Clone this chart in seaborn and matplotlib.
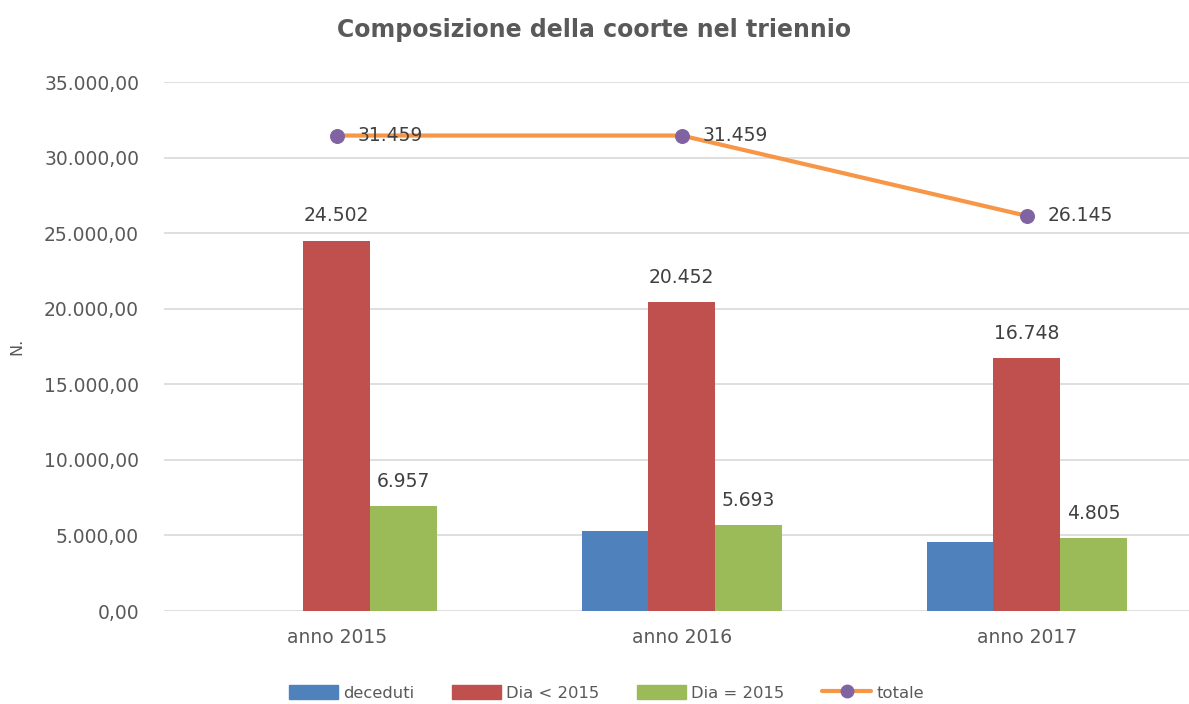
import pandas as pd
import seaborn as sns
import matplotlib.pyplot as plt
from matplotlib.lines import Line2D
from matplotlib.patches import Patch

# Dati
anni = ['anno 2015', 'anno 2016', 'anno 2017']
serie = ['deceduti', 'Dia < 2015', 'Dia = 2015']
deceduti = [0, 5314, 4592]
dia_prima = [24502, 20452, 16748]
dia_uguale = [6957, 5693, 4805]
totale = [31459, 31459, 26145]
colori = ['#4F81BD', '#C0504D', '#9BBB59']

def fmt_it(v, dec=0):
    s = f"{v:,.{dec}f}"
    return s.replace(',', 'X').replace('.', ',').replace('X', '.')

df = pd.DataFrame({
    'anno': anni * 3,
    'serie': [serie[0]] * 3 + [serie[1]] * 3 + [serie[2]] * 3,
    'valore': deceduti + dia_prima + dia_uguale,
})

sns.set_style("white")
plt.rcParams['font.family'] = ['DejaVu Sans']
grigio = '#595959'

fig = plt.figure(figsize=(11.89, 7.04), dpi=100)
ax = fig.add_axes([0.138, 0.132, 0.862, 0.7515])

sns.barplot(data=df, x='anno', y='valore', hue='serie', palette=colori,
            saturation=1, width=0.58, linewidth=0, ax=ax, legend=False, zorder=3)

# etichette sulle barre rosse e verdi
for cont, vals in zip(ax.containers[1:], [dia_prima, dia_uguale]):
    ax.bar_label(cont, labels=[fmt_it(v) for v in vals], padding=11,
                 fontsize=13.5, color='#404040')

# linea totale
x_idx = list(range(len(anni)))
sns.lineplot(x=x_idx, y=totale, color='#F79646', linewidth=3, marker='o',
             markersize=10, markerfacecolor='#8064A2', markeredgecolor='#8064A2',
             ax=ax, zorder=4)
for xi, v in zip(x_idx, totale):
    ax.annotate(fmt_it(v), (xi, v), xytext=(15, 0), textcoords='offset points',
                va='center', ha='left', fontsize=13.5, color='#404040', zorder=5)

ax.set_ylim(0, 35000)
ax.set_xlim(-0.5, 2.47)
ax.set_yticks(range(0, 35001, 5000))
ax.set_yticklabels([fmt_it(t, 2) for t in range(0, 35001, 5000)])
ax.tick_params(axis='both', length=0, labelsize=13.5, colors=grigio)
ax.tick_params(axis='y', pad=18)
ax.tick_params(axis='x', pad=12)
ax.grid(axis='y', color='#D9D9D9', linewidth=1.2, zorder=0)
ax.set_axisbelow(True)
for s in ax.spines.values():
    s.set_visible(False)

ax.set_xlabel('')
ax.set_ylabel('N.', fontsize=11.5, color=grigio)
ax.yaxis.set_label_coords(-0.136, 0.5)

fig.suptitle('Composizione della coorte nel triennio', fontsize=17,
             fontweight='bold', color=grigio, y=0.975)

handles = [Patch(color=c) for c in colori]
handles.append(Line2D([0], [0], color='#F79646', linewidth=3, marker='o',
                      markersize=9, markerfacecolor='#8064A2', markeredgecolor='#8064A2'))
fig.legend(handles, serie + ['totale'], loc='lower center', ncol=4, frameon=False,
           bbox_to_anchor=(0.51, -0.016), fontsize=11.8, labelcolor=grigio,
           handlelength=3.0, handleheight=0.9, columnspacing=2.3, handletextpad=0.3)

fig.savefig('out.png', dpi=100)
